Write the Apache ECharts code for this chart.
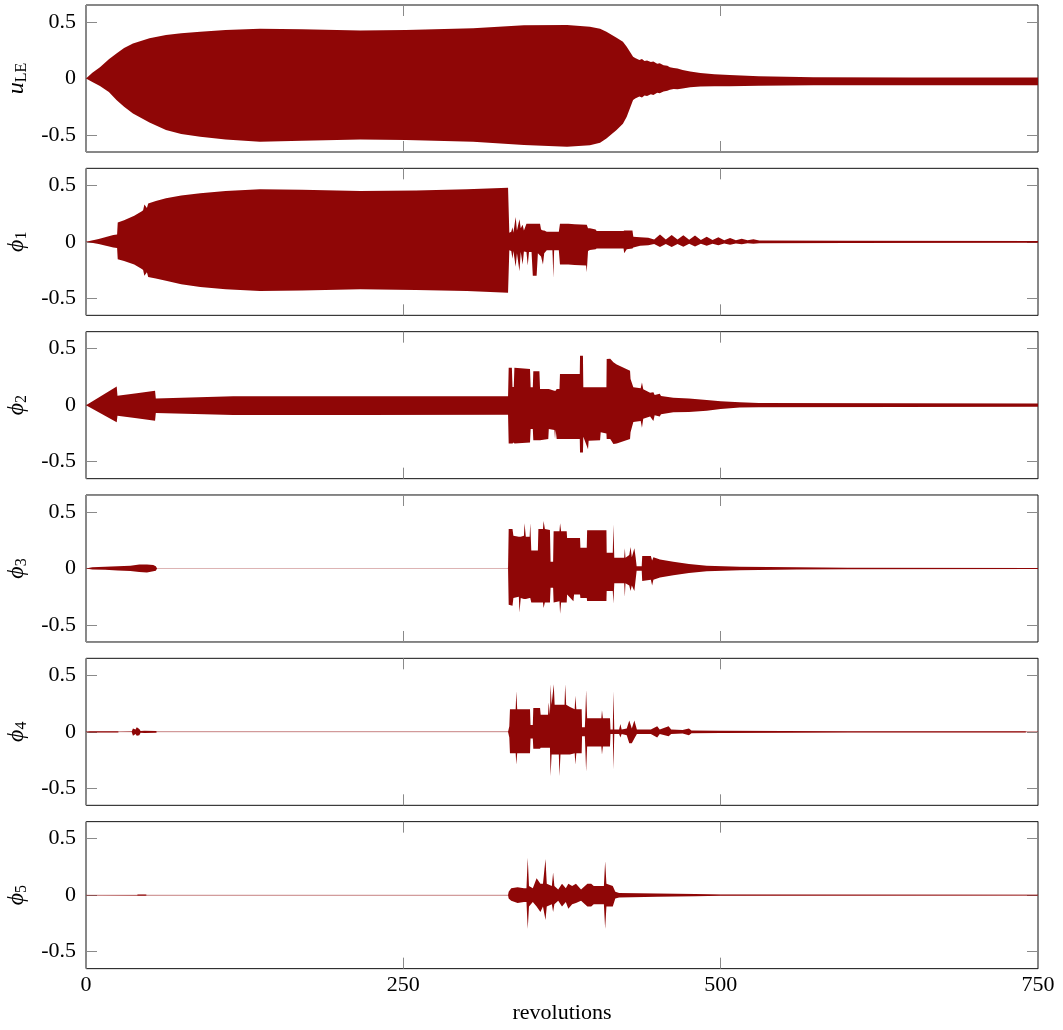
<!DOCTYPE html>
<html><head><meta charset="utf-8">
<script src="https://cdn.jsdelivr.net/npm/echarts@6/dist/echarts.min.js"></script>
<style>html,body{margin:0;padding:0;background:#fff}#c{width:1063px;height:1030px}</style>
</head><body><div id="c"></div>
<script>
// tick values
const xTickInterval = 250;
const xMin = 0, xMax = 750;
const yTickValues = [-0.5, 0, 0.5];
const yMin = -0.65, yMax = 0.65;
const xLabel = 'revolutions';
const panelNames = ['{i|u}{s|LE}', '{i|ϕ}{s|1}', '{i|ϕ}{s|2}', '{i|ϕ}{s|3}', '{i|ϕ}{s|4}', '{i|ϕ}{s|5}'];

// envelopes: [revolution, upper, lower]
const uLE = [[0,0,0],[5,0.05,-0.03],[11,0.10,-0.066],[18,0.17,-0.12],[24,0.22,-0.19],[30,0.27,-0.25],[37,0.31,-0.31],[50,0.355,-0.39],[63,0.385,-0.456],[75,0.40,-0.49],[90,0.414,-0.515],[110,0.428,-0.54],[137,0.44,-0.559],[170,0.435,-0.55],[216,0.425,-0.54],[252,0.43,-0.544],[305,0.444,-0.559],[345,0.47,-0.588],[379,0.473,-0.603],[397,0.458,-0.59],[405,0.44,-0.568],[410,0.414,-0.53],[418,0.36,-0.456],[423,0.326,-0.40],[426,0.28,-0.338],[431,0.193,-0.19],[433,0.18,-0.175],[436,0.164,-0.16],[438,0.172,-0.168],[440,0.155,-0.15],[442,0.16,-0.155],[445,0.145,-0.14],[447,0.15,-0.145],[450,0.13,-0.125],[452,0.135,-0.13],[455,0.118,-0.115],[458,0.112,-0.108],[460,0.1,-0.1],[463,0.092,-0.093],[466,0.088,-0.095],[470,0.075,-0.088],[476,0.062,-0.078],[484,0.048,-0.07],[495,0.038,-0.068],[507,0.031,-0.068],[530,0.02,-0.064],[573,0.012,-0.06],[650,0.009,-0.06],[750,0.008,-0.06]];

const phi1 = [[0,0,0],[10,0.025,-0.02],[21.5,0.06,-0.05],[24.5,0.065,-0.055],[25,0.172,-0.153],[30,0.19,-0.17],[38,0.23,-0.2],[44,0.27,-0.24],[45,0.28,-0.25],[46,0.33,-0.3],[48,0.30,-0.27],[49,0.34,-0.31],[55,0.36,-0.325],[63,0.385,-0.344],[75,0.41,-0.375],[90,0.43,-0.40],[110,0.45,-0.42],[137,0.465,-0.435],[170,0.46,-0.43],[216,0.45,-0.42],[260,0.455,-0.425],[300,0.465,-0.435],[332.5,0.479,-0.45],[333.5,0.08,-0.075],[335,0.09,-0.08],[336,0.13,-0.15],[336.7,0.08,-0.08],[338.5,0.22,-0.22],[339.5,0.1,-0.1],[341.5,0.2,-0.26],[342.5,0.12,-0.09],[344,0.15,-0.2],[345,0.1,-0.085],[347,0.16,-0.09],[348,0.16,-0.21],[349,0.16,-0.09],[351,0.16,-0.09],[352,0.16,-0.3],[355,0.16,-0.3],[356,0.16,-0.1],[357.7,0.16,-0.12],[358.5,0.11,-0.13],[360,0.1,-0.2],[361,0.1,-0.1],[363,0.09,-0.075],[367.5,0.09,-0.075],[368.2,0.09,-0.32],[368.8,0.09,-0.075],[372.5,0.09,-0.075],[373.4,0.16,-0.2],[380,0.16,-0.2],[385,0.155,-0.205],[394,0.15,-0.21],[394.5,0.15,-0.27],[395.5,0.12,-0.08],[397,0.12,-0.073],[401.5,0.11,-0.065],[402.3,0.095,-0.058],[410,0.095,-0.058],[420,0.095,-0.06],[423.5,0.095,-0.06],[424,0.1,-0.1],[426,0.1,-0.065],[430.5,0.1,-0.06],[431.2,0.045,-0.05],[436.5,0.04,-0.035],[443,0.035,-0.03],[447.6,0.02,-0.02],[452.2,0.065,-0.046],[456.8,0.02,-0.02],[461.4,0.06,-0.045],[466,0.02,-0.02],[470.6,0.058,-0.044],[475.2,0.018,-0.018],[479.8,0.055,-0.042],[484.4,0.017,-0.017],[489,0.045,-0.035],[493.6,0.016,-0.016],[498.2,0.04,-0.03],[502.8,0.015,-0.015],[507.4,0.033,-0.026],[512,0.014,-0.014],[516.6,0.027,-0.022],[521.2,0.013,-0.013],[525.8,0.022,-0.018],[530.4,0.012,-0.012],[600,0.01,-0.01],[750,0.008,-0.008]];

const phi2 = [[0,0,0],[24.2,0.164,-0.152],[24.8,0.084,-0.093],[40,0.105,-0.115],[54.4,0.128,-0.137],[55,0.06,-0.069],[116,0.078,-0.087],[216,0.078,-0.087],[332.5,0.078,-0.085],[333,0.33,-0.34],[335.5,0.33,-0.34],[336,0.16,-0.34],[337,0.16,-0.33],[337.5,0.33,-0.34],[349.8,0.32,-0.33],[350.3,0.158,-0.21],[352,0.158,-0.21],[352.4,0.3,-0.31],[357.2,0.3,-0.31],[357.7,0.143,-0.31],[364.2,0.143,-0.3],[364.6,0.143,-0.21],[369,0.128,-0.22],[369.5,0.128,-0.3],[370,0.128,-0.22],[370.8,0.143,-0.3],[373,0.143,-0.3],[373.4,0.276,-0.3],[389,0.276,-0.3],[389.2,0.438,-0.418],[391.5,0.438,-0.418],[391.8,0.158,-0.28],[395.5,0.158,-0.39],[396,0.158,-0.314],[405,0.158,-0.31],[405.5,0.158,-0.24],[410,0.158,-0.25],[410.2,0.409,-0.3],[413,0.41,-0.3],[415.5,0.379,-0.344],[418.1,0.36,-0.34],[428.6,0.305,-0.3],[429,0.232,-0.24],[431.2,0.158,-0.15],[437,0.15,-0.14],[438,0.2,-0.2],[439,0.14,-0.12],[444.4,0.11,-0.1],[447,0.115,-0.14],[448,0.09,-0.09],[452,0.1,-0.1],[453,0.08,-0.08],[462.7,0.065,-0.063],[475,0.06,-0.06],[489,0.045,-0.05],[500,0.035,-0.035],[515,0.025,-0.02],[530,0.02,-0.018],[750,0.015,-0.015]];

const phi3 = [[0,0.001,-0.001],[5,0.012,-0.01],[15,0.015,-0.012],[25,0.02,-0.018],[35,0.025,-0.022],[42,0.035,-0.03],[48,0.035,-0.035],[53,0.03,-0.025],[55,0.02,-0.02],[56,0.001,-0.001],[332.5,0.001,-0.001],[333,0.35,-0.32],[336,0.35,-0.33],[336.7,0.29,-0.26],[341,0.28,-0.25],[341.5,0.28,-0.39],[342.5,0.28,-0.26],[345,0.29,-0.27],[345.5,0.4,-0.27],[346.5,0.28,-0.27],[349.5,0.28,-0.26],[350,0.4,-0.26],[350.8,0.16,-0.3],[356,0.16,-0.3],[356.4,0.35,-0.3],[360,0.35,-0.3],[360.5,0.42,-0.35],[361.5,0.35,-0.3],[365.5,0.34,-0.3],[366,0.06,-0.17],[368,0.06,-0.17],[368.4,0.33,-0.3],[373,0.33,-0.29],[373.5,0.4,-0.4],[374.3,0.33,-0.3],[378.7,0.33,-0.3],[379,0.27,-0.23],[384,0.27,-0.29],[384.5,0.27,-0.23],[389.2,0.27,-0.23],[389.5,0.184,-0.26],[394.5,0.184,-0.26],[394.8,0.338,-0.288],[410,0.338,-0.288],[410.2,0.14,-0.2],[415,0.14,-0.2],[415.5,0.39,-0.31],[416.2,0.096,-0.13],[424,0.096,-0.13],[424.5,0.18,-0.25],[425,0.096,-0.13],[428,0.12,-0.15],[429,0.19,-0.2],[430,0.1,-0.15],[432,0.18,-0.2],[433,0.1,-0.1],[433.8,0.02,-0.02],[437.8,0.02,-0.02],[438.2,0.11,-0.11],[445,0.11,-0.1],[446,0.07,-0.15],[447,0.1,-0.1],[452.2,0.08,-0.08],[462.7,0.06,-0.06],[475,0.04,-0.04],[489,0.025,-0.025],[515,0.015,-0.015],[560,0.01,-0.01],[600,0.007,-0.007],[750,0.005,-0.005]];

const phi4 = [[0,0.001,-0.001],[3,0.006,-0.006],[25,0.005,-0.005],[26,0.001,-0.001],[36,0.002,-0.002],[37,0.03,-0.035],[39,0.02,-0.02],[40,0.04,-0.035],[42,0.025,-0.03],[43,0.008,-0.008],[46,0.01,-0.01],[55,0.008,-0.008],[56,0.001,-0.001],[332.5,0.001,-0.001],[333.5,0.05,-0.05],[334,0.2,-0.19],[338.5,0.2,-0.19],[339,0.358,-0.29],[339.7,0.2,-0.19],[349.8,0.2,-0.19],[350.2,0.06,-0.06],[352,0.06,-0.06],[352.4,0.21,-0.15],[357.7,0.21,-0.15],[358.2,0.15,-0.14],[364,0.15,-0.14],[364.5,0.26,-0.14],[365.5,0.15,-0.14],[366,0.42,-0.39],[366.8,0.24,-0.2],[368.5,0.42,-0.2],[369.2,0.24,-0.2],[372.5,0.24,-0.2],[373,0.24,-0.39],[373.8,0.24,-0.2],[377,0.24,-0.2],[377.5,0.42,-0.2],[378.3,0.24,-0.2],[381.3,0.22,-0.2],[385,0.2,-0.19],[385.5,0.32,-0.29],[386.3,0.2,-0.19],[390.5,0.2,-0.19],[390.8,0.04,-0.04],[393,0.04,-0.04],[393.3,0.12,-0.13],[394,0.37,-0.35],[394.8,0.12,-0.13],[406,0.12,-0.13],[406.5,0.19,-0.2],[407.2,0.12,-0.13],[412.8,0.12,-0.13],[413.2,0.02,-0.02],[415,0.02,-0.02],[415.5,0.358,-0.33],[416.2,0.02,-0.02],[420,0.02,-0.02],[421,0.07,-0.05],[422,0.02,-0.02],[426,0.03,-0.03],[428,0.1,-0.1],[430,0.03,-0.1],[432,0.1,-0.06],[434,0.02,-0.02],[445,0.02,-0.02],[450,0.05,-0.05],[452,0.02,-0.02],[459,0.05,-0.04],[461,0.02,-0.02],[470,0.015,-0.015],[475,0.03,-0.03],[477,0.012,-0.012],[500,0.01,-0.01],[600,0.006,-0.006],[740,0.005,-0.005],[741,0.001,-0.001],[750,0.001,-0.001]];

const phi5 = [[0,0.001,-0.001],[40,0.002,-0.002],[41,0.006,-0.006],[47,0.006,-0.006],[48,0.001,-0.001],[332.5,0.001,-0.001],[333,0.03,-0.03],[335,0.06,-0.05],[340,0.07,-0.07],[345,0.06,-0.06],[347,0.06,-0.06],[348,0.33,-0.3],[349,0.08,-0.1],[352,0.06,-0.06],[355,0.15,-0.1],[358,0.1,-0.15],[360,0.1,-0.1],[362,0.32,-0.22],[363,0.1,-0.1],[367,0.08,-0.08],[368,0.2,-0.15],[369,0.08,-0.08],[372,0.05,-0.05],[375,0.1,-0.1],[378,0.06,-0.06],[380,0.1,-0.12],[383,0.08,-0.08],[386,0.1,-0.07],[390,0.05,-0.05],[395,0.1,-0.1],[398,0.1,-0.1],[400,0.08,-0.08],[408,0.08,-0.08],[409,0.3,-0.3],[410,0.1,-0.1],[415,0.08,-0.1],[417,0.03,-0.03],[420,0.02,-0.02],[450,0.015,-0.015],[480,0.01,-0.01],[500,0.005,-0.005],[750,0.003,-0.003]];

const panels = [uLE, phi1, phi2, phi3, phi4, phi5];

const FONT = 'Liberation Serif';
const RED = '#8f0606';
const chart = echarts.init(document.getElementById('c'), null, {renderer: 'canvas'});

const grid = [], xAxis = [], yAxis = [], series = [];
panels.forEach((data, i) => {
  const top = 5 + i * 163.33;
  grid.push({left: 86, right: 25, top: top, height: 147, show: true, borderColor: '#111', borderWidth: 1,
    backgroundColor: 'transparent', containLabel: false, outerBoundsMode: 'none'});
  const last = i === panels.length - 1;
  const xBase = {gridIndex: i, type: 'value', min: xMin, max: xMax, interval: xTickInterval,
    axisLine: {show: false, onZero: false}, splitLine: {show: false},
    axisTick: {inside: true, length: 11, lineStyle: {color: '#8a8a8a', width: 1}}};
  xAxis.push(Object.assign({}, xBase, {position: 'bottom',
    axisLabel: {show: last, fontFamily: FONT, fontSize: 22, color: '#000', margin: 6},
    name: last ? xLabel : '', nameLocation: 'middle', nameGap: 34,
    nameTextStyle: {fontFamily: FONT, fontSize: 22, color: '#000'}}));
  xAxis.push(Object.assign({}, xBase, {position: 'top', axisLabel: {show: false}}));
  const yBase = {gridIndex: i, type: 'value', min: yMin, max: yMax,
    axisLine: {show: false, onZero: false}, splitLine: {show: false},
    axisTick: {inside: true, length: 11, customValues: yTickValues, lineStyle: {color: '#8a8a8a', width: 1}}};
  yAxis.push(Object.assign({}, yBase, {position: 'left',
    axisLabel: {customValues: yTickValues, fontFamily: FONT, fontSize: 22, color: '#000', margin: 10,
      formatter: v => String(v)},
    name: panelNames[i], nameLocation: 'middle', nameRotate: 90, nameGap: 56,
    nameTextStyle: {fontFamily: FONT, color: '#000',
      rich: {i: {fontFamily: FONT, fontStyle: 'italic', fontSize: 24, color: '#000', lineHeight: 26},
             s: {fontFamily: FONT, fontSize: 16, color: '#000', lineHeight: 12, verticalAlign: 'bottom'}}}}));
  yAxis.push(Object.assign({}, yBase, {position: 'right', axisLabel: {show: false}}));
  series.push({
    type: 'custom', xAxisIndex: 2 * i, yAxisIndex: 2 * i, data: data, clip: true,
    encode: {x: 0, y: [1, 2]}, silent: true,
    renderItem: (params, api) => {
      if (params.dataIndexInside !== 0) return null;
      const n = params.dataInsideLength;
      const up = [], lo = [], mid = [];
      for (let k = 0; k < n; k++) {
        const x = api.value(0, k), h = api.value(1, k), l = api.value(2, k);
        up.push(api.coord([x, h]));
        lo.push(api.coord([x, l]));
        mid.push(api.coord([x, (h + l) / 2]));
      }
      return {type: 'group', children: [
        {type: 'polyline', shape: {points: mid}, style: {stroke: 'rgba(143,6,6,0.3)', lineWidth: 1, fill: null}},
        {type: 'polygon', shape: {points: up.concat(lo.reverse())}, style: {fill: RED}}
      ]};
    }
  });
});

chart.setOption({animation: false, backgroundColor: '#fff', grid, xAxis, yAxis, series});
</script>
</body></html>
